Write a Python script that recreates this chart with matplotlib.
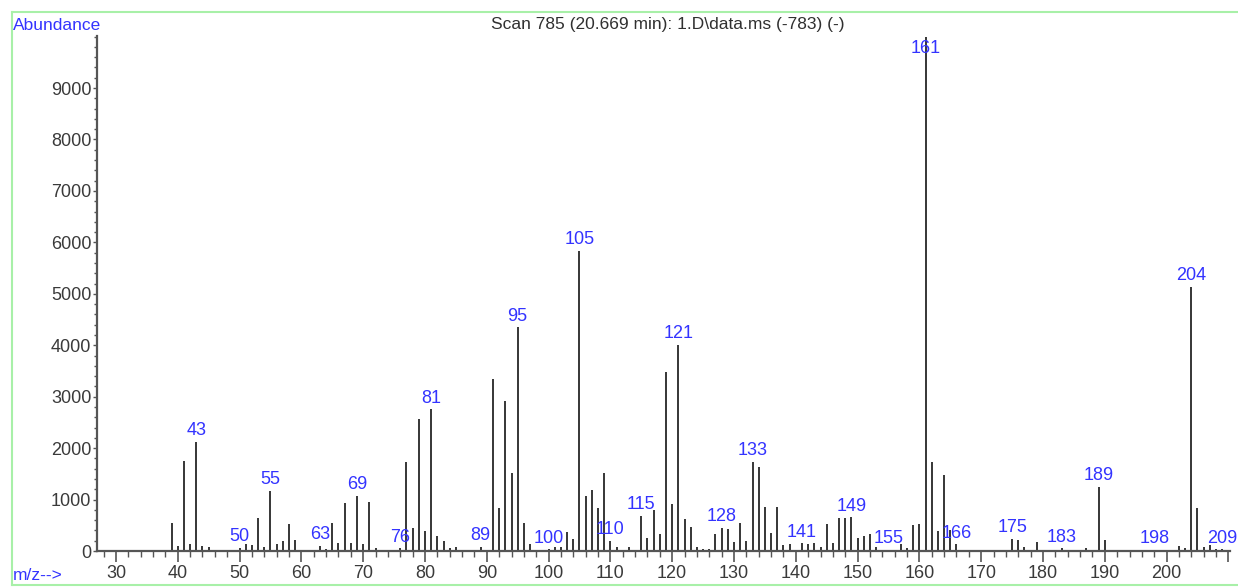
import matplotlib.pyplot as plt
from matplotlib.lines import Line2D
from matplotlib.ticker import MultipleLocator, FixedLocator, FuncFormatter

# mass spectrum
mz = [39, 40, 41, 42, 43, 44, 45,
      50, 51, 52, 53, 54, 55, 56, 57, 58, 59,
      62, 63, 64, 65, 66, 67, 68, 69, 70, 71, 72,
      75, 76, 77, 78, 79, 80, 81, 82, 83, 84, 85, 86,
      89, 91, 92, 93, 94, 95, 96, 97, 98,
      100, 101, 102, 103, 104, 105, 106, 107, 108, 109, 110, 111, 112, 113, 114,
      115, 116, 117, 118, 119, 120, 121, 122, 123, 124, 125, 126, 127, 128, 129,
      130, 131, 132, 133, 134,
      135, 136, 137, 138, 139, 140, 141, 142, 143, 144, 145, 146, 147, 148, 149,
      150, 151, 152, 153, 154, 155, 156, 157, 158, 159, 160,
      161, 162, 163, 164, 165, 166, 167, 168,
      173, 174, 175, 176, 177, 178, 179,
      183, 187, 188, 189, 190, 191,
      198, 202, 203, 204, 205, 206, 207, 208, 209]
abundance = [550, 100, 1756, 136, 2125, 100, 72,
             60, 140, 117, 641, 72, 1166, 136, 188, 525, 207,
             20, 97, 45, 551, 162, 940, 162, 1069, 136, 959, 52,
             20, 50, 1736, 440, 2560, 395, 2754, 298, 201, 52, 84, 20,
             84, 3337, 842, 2922, 1510, 4348, 551, 136, 20,
             30, 84, 72, 363, 230, 5838, 1069, 1186, 845, 1510, 197, 72, 20, 72, 20,
             687, 246, 797, 324, 3486, 914, 4005, 615, 460, 72, 40, 40, 324, 455, 430,
             181, 551, 201, 1736, 1640,
             849, 343, 849, 117, 136, 20, 149, 136, 149, 84, 525, 149, 635, 635, 655,
             246, 291, 324, 84, 20, 20, 20, 130, 52, 499, 518,
             10000, 1736, 389, 1477, 402, 130, 20, 20,
             20, 20, 233, 214, 71, 20, 181,
             52, 52, 20, 1250, 214, 20,
             20, 97, 52, 5132, 829, 71, 117, 30, 30]

labelled = [43, 50, 55, 63, 69, 76, 81, 89, 95, 100, 105, 110, 115, 121, 128,
            133, 141, 149, 155, 161, 166, 175, 183, 189, 198, 204, 209]

x_ticks = list(range(30, 211, 10))
y_ticks = list(range(0, 9001, 1000))

title = r"Scan 785 (20.669 min): 1.D\data.ms (-783) (-)"

plt.rcParams['font.family'] = ['Liberation Sans', 'DejaVu Sans']

W, H = 1238, 587
fig = plt.figure(figsize=(W / 100, H / 100), dpi=100)
ax = fig.add_axes([97 / W, 1 - 551 / H, (1230 - 97) / W, (551 - 36) / H])

ax.vlines(mz, 0, abundance, color='black', lw=1.1)

ax.set_xlim(26.93, 210.26)
ax.set_ylim(0, 10012)

# peak labels (kept inside the frame at the very top)
heights = dict(zip(mz, abundance))
for m in labelled:
    y = min(heights[m], 9550)
    ax.annotate(str(m), (m, y), xytext=(0, 2), textcoords='offset points',
                ha='center', va='bottom', color='#3333ff', fontsize=13)

axis_col = '#555555'
for side in ['top', 'right']:
    ax.spines[side].set_visible(False)
for side in ['left', 'bottom']:
    ax.spines[side].set_color(axis_col)
    ax.spines[side].set_linewidth(1.6)

ax.xaxis.set_major_locator(FixedLocator(x_ticks))
ax.xaxis.set_major_formatter(FuncFormatter(lambda v, p: '' if v > 205 else f'{v:.0f}'))
ax.xaxis.set_minor_locator(MultipleLocator(2))
ax.yaxis.set_major_locator(FixedLocator(y_ticks))
ax.yaxis.set_minor_locator(MultipleLocator(200))
ax.tick_params(axis='x', which='major', length=8, width=1.2, color=axis_col,
               labelsize=13, labelcolor='#3a3a3a', pad=2)
ax.tick_params(axis='x', which='minor', length=4.5, width=1.0, color=axis_col)
ax.tick_params(axis='y', which='major', length=3, width=1.0, color=axis_col,
               labelsize=13, labelcolor='#3a3a3a', pad=1)
ax.tick_params(axis='y', which='minor', length=2, width=1.0, color=axis_col)

fig.text(12.5 / W, 1 - 25 / H, 'Abundance', color='#3333ff', fontsize=12.5,
         ha='left', va='center')
fig.text(12.5 / W, 1 - 576 / H, 'm/z-->', color='#3333ff', fontsize=12.5,
         ha='left', va='center')
fig.text(668 / W, 1 - 25 / H, title, color='#303030', fontsize=12.5,
         ha='center', va='center')

# light green frame round the plot
green = '#a8f0a8'
fig.add_artist(Line2D([12 / W, 1], [1 - 12 / H] * 2, color=green, lw=1.5))
fig.add_artist(Line2D([12 / W] * 2, [1 - 12 / H, 1 - 585 / H], color=green, lw=1.5))
fig.add_artist(Line2D([12 / W, 1], [1 - 585 / H] * 2, color=green, lw=1.5))

fig.savefig('out.png', dpi=100)
